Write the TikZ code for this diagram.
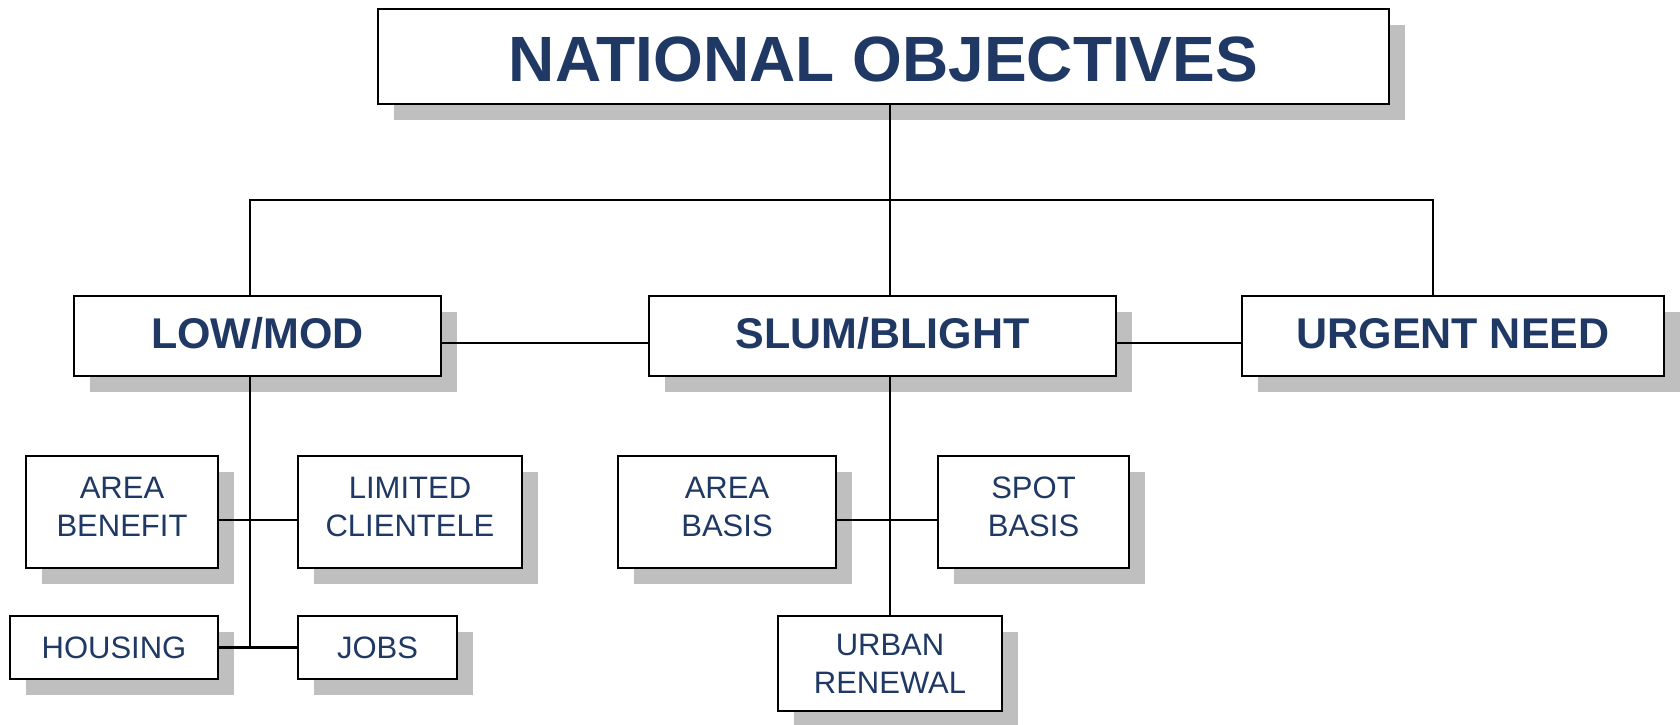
\documentclass[tikz,border=0pt]{standalone}
\usepackage{fontspec}
\setmainfont{Liberation Sans}
\usetikzlibrary{positioning,shadows}
\definecolor{objnavy}{HTML}{1F3864}
\definecolor{shadowgray}{HTML}{BFBFBF}
\tikzset{
  box/.style={
    rectangle, draw=black, line width=1.25pt, fill=white, text=objnavy,
    align=center, inner sep=0pt,
    drop shadow={shadow xshift=8pt, shadow yshift=-8pt, fill=shadowgray, opacity=1}
  },
  headbox/.style={box, minimum width=505.5pt, minimum height=47.5pt, text height=25pt,
    font=\bfseries\fontsize{32}{38}\selectfont},
  objbox/.style={box, minimum height=40pt, text depth=3pt,
    font=\bfseries\fontsize{21.5}{26}\selectfont},
  subbox/.style={box, font=\fontsize{15.5}{19}\selectfont},
  twoline/.style={subbox, minimum height=56pt, text depth=5.4pt},
  link/.style={draw=black, line width=1.3pt}
}

\begin{document}
\begin{tikzpicture}[x=0.5pt, y=-0.5pt]
\useasboundingbox (0,0) rectangle (1680,724);
% top and the three objectives
\node[headbox] (natobj) at (883.5,56.5) {NATIONAL OBJECTIVES};
\node[objbox, minimum width=183.5pt] (lowmod) at (257.5,336) {LOW/MOD};
\node[objbox, minimum width=233.5pt, right=102.75pt of lowmod] (slum) {SLUM/BLIGHT};
\node[objbox, minimum width=211pt, right=61.75pt of slum] (urgent) {URGENT NEED};
% low/mod categories
\node[twoline, minimum width=96pt] (areaben) at (122,512) {AREA\\BENEFIT};
\node[twoline, minimum width=112pt, right=38.75pt of areaben] (limcli) {LIMITED\\CLIENTELE};
\node[subbox, minimum width=104pt, minimum height=31.5pt] (housing) at (114,647.5) {HOUSING};
\node[subbox, minimum width=79.5pt, minimum height=31.5pt, right=38.75pt of housing] (jobs) {JOBS};
% slum/blight categories
\node[twoline, minimum width=109pt] (areabas) at (727,512) {AREA\\BASIS};
\node[twoline, minimum width=95.5pt, right=49.75pt of areabas] (spotbas) {SPOT\\BASIS};
\node[subbox, minimum width=112pt, minimum height=47.5pt] (urbren) at (890,663.5) {URBAN\\RENEWAL};
% where the stems run
\coordinate (lstem) at (250,200);
\coordinate (cstem) at (890,200);
\coordinate (rstem) at (1433,200);
\coordinate (tierrow) at (0,343);
\coordinate (leafrow) at (0,520);
\draw[link] (natobj.south -| cstem) -- (slum.north -| cstem);
\draw[link] (lowmod.north -| lstem) |- (rstem) -- (urgent.north -| rstem);
\draw[link] (lowmod.east |- tierrow) -- (slum.west |- tierrow);
\draw[link] (slum.east |- tierrow) -- (urgent.west |- tierrow);
\draw[link] (lowmod.south -| lstem) -- (housing.east -| lstem);
\draw[link] (areaben.east |- leafrow) -- (limcli.west |- leafrow);
\draw[link] (housing) -- (jobs);
\draw[link] (slum.south -| cstem) -- (urbren.north -| cstem);
\draw[link] (areabas.east |- leafrow) -- (spotbas.west |- leafrow);
\end{tikzpicture}
\end{document}
